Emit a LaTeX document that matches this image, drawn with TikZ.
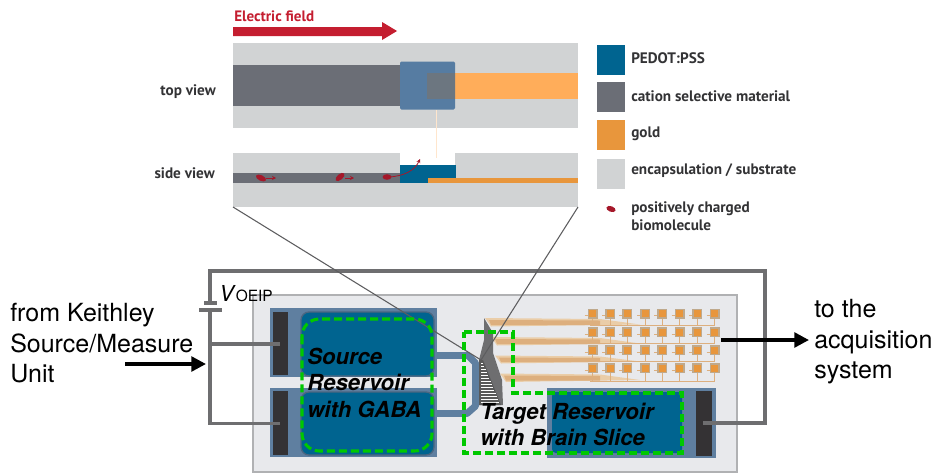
\documentclass[tikz,border=0pt]{standalone}
\usepackage{fontspec}
\setmainfont{TeX Gyre Heros}
\newfontfamily\legendfont{PT Sans}
\usetikzlibrary{arrows.meta}
\definecolor{encap}{HTML}{D1D3D4}
\definecolor{cation}{HTML}{6B6E76}
\definecolor{pedot}{HTML}{006490}
\definecolor{goldc}{HTML}{E8963C}
\definecolor{goldl}{HTML}{FFAD5A}
\definecolor{viewblue}{HTML}{567CA2}
\definecolor{overlap}{HTML}{6C7680}
\definecolor{redarrow}{HTML}{C41E30}
\definecolor{biomol}{HTML}{A5182A}
\definecolor{legtext}{HTML}{333335}
\definecolor{wire}{HTML}{6E6E70}
\definecolor{subst}{HTML}{E8E9EC}
\definecolor{substedge}{HTML}{B0B1B3}
\definecolor{frameblue}{HTML}{5F7FA0}
\definecolor{padblack}{HTML}{343234}
\definecolor{dashgreen}{HTML}{00C800}
\definecolor{tracel}{HTML}{EACDA8}
\definecolor{traced}{HTML}{DDAF7E}
\definecolor{padedge}{HTML}{BFA98C}
\tikzset{
  x=0.75pt,y=-0.75pt,
  legtxt/.style={anchor=base west,inner sep=0pt,text=legtext,font=\legendfont\bfseries\fontsize{11.4}{13}\selectfont},
  viewtxt/.style={anchor=base east,inner sep=0pt,text=legtext,font=\legendfont\bfseries\fontsize{11.4}{13}\selectfont},
  swatch/.style={inner sep=0pt,minimum width=21pt,minimum height=22.5pt,draw=none},
  mainlabel/.style={anchor=base west,inner sep=0pt,font=\fontsize{18.75}{22}\selectfont},
  reslabel/.style={anchor=base west,inner sep=0pt,font=\bfseries\itshape\fontsize{16.6}{20}\selectfont},
  wireline/.style={draw=wire,line width=2.4pt},
  zoomline/.style={draw=wire!85!black,line width=0.8pt},
  greendash/.style={draw=dashgreen,line width=2.3pt,dash pattern=on 6pt off 3pt},
  bigarrow/.style={draw=black,line width=2.6pt,-{Triangle[length=11pt,width=11pt]}},
  molecule/.style={fill=biomol,draw=none},
  molarrow/.style={draw=biomol,line width=0.6pt,-{Stealth[length=3pt,width=3pt]}},
}
\begin{document}
\begin{tikzpicture}
\useasboundingbox (0,0) rectangle (934,475);
% ---------- Electric field
\node[anchor=base west,inner sep=0pt,text=redarrow,font=\legendfont\bfseries\fontsize{11.3}{13}\selectfont] (efield) at (234,21) {Electric field};
\fill[redarrow] (233,27)--(382,27)--(382,22)--(397,31)--(382,40)--(382,36)--(233,36)--cycle;
% ---------- top view
\fill[encap] (233,43) rectangle (578,128);
\fill[cation] (233,65) rectangle (401,106);
\fill[goldl] (455,73) rectangle (578,98.5);
\fill[viewblue,rounded corners=1pt] (400,61.5) rectangle (455,109.5);
\fill[overlap] (427,73) rectangle (455,98.5);
\draw[color=goldl!30!white,line width=0.6pt] (436,110)--(436,158);
% ---------- side view
\fill[encap] (233,153) rectangle (400,207);
\fill[encap] (455,153) rectangle (578,207);
\fill[encap] (400,165) rectangle (455,207);
\fill[cation] (233,173) rectangle (400,183);
\fill[pedot] (399.5,165) rectangle (455.5,183);
\fill[goldc] (428,178) rectangle (578,183);
\fill[molecule,rotate around={-25:(261,178)}] (261,178) ellipse (5.5 and 2.8);
\fill[molecule,rotate around={40:(340,177)}] (340,177) ellipse (5.5 and 2.8);
\fill[molecule] (387,177) ellipse (4.5 and 2.8);
\draw[molarrow] (266,178)--(276,178);
\draw[molarrow] (345,178)--(354,178);
\draw[molarrow] (389,177) .. controls (405,176) and (415,170) .. (420,159);
\node[viewtxt] (topview) at (216,95) {top view};
\node[viewtxt] (sideview) at (215,178) {side view};
% ---------- legend
\node[swatch,fill=pedot,anchor=north west] (sw1) at (597,45) {};
\node[swatch,fill=cation,anchor=north west] (sw2) at (597,82) {};
\node[swatch,fill=goldc,anchor=north west] (sw3) at (597,119.5) {};
\node[swatch,fill=encap,anchor=north west] (sw4) at (597,159) {};
\fill[molecule,rotate around={-20:(611,209)}] (611,209) ellipse (4.8 and 2.8);
\node[legtxt] (l1) at (631,63) {PEDOT:PSS};
\node[legtxt] (l2) at (631,101) {cation selective material};
\node[legtxt] (l3) at (631,137) {gold};
\node[legtxt] (l4) at (631,174) {encapsulation / substrate};
\node[legtxt] (l5) at (631,212) {positively charged};
\node[legtxt] (l6) at (631,230) {biomolecule};
% ---------- device
\draw[fill=subst,draw=substedge,line width=1.5pt] (253,295) rectangle (737,472);
% reservoirs
\fill[frameblue] (270,308) rectangle (437,377);
\fill[frameblue] (270,388) rectangle (437,457);
\fill[frameblue] (547,388) rectangle (716,458);
\draw[draw=frameblue,line width=5.2pt,line join=round] (436,355.5)--(468,355.5)--(475.5,363)--(475.5,406)--(467,413.5)--(436,413.5);
\node[inner sep=0pt,minimum width=11.25pt,minimum height=47.25pt,fill=padblack,anchor=north west] (padA) at (273,312) {};
\node[inner sep=0pt,minimum width=11.25pt,minimum height=48pt,fill=padblack,anchor=north west] (padB) at (273,391) {};
\node[inner sep=0pt,minimum width=12pt,minimum height=48.75pt,fill=padblack,anchor=north west] (padC) at (696,391) {};
\fill[pedot,rounded corners=6pt,draw=frameblue!80!black,line width=1pt] (301,312) rectangle (434,376);
\fill[pedot,rounded corners=6pt,draw=frameblue!80!black,line width=1pt] (301,392) rectangle (434,455);
\fill[pedot,rounded corners=3pt] (552,392) rectangle (682,453);
% traces
\foreach \ya/\yb/\xl in {318/326.5/485,337/345.5/491,355.5/363.5/495,373.5/382/500}{
  \fill[tracel] (\xl,\ya)--(600,\ya+1)--(640,\yb-2)--(\xl+6,\yb)--cycle;
  \fill[traced] (\xl+4,\ya+2)--(600,\ya+2.5)--(600,\yb-1.5)--(\xl+6,\yb-1.5)--cycle;
}
\foreach \yy/\yl in {313.7/325,332.3/343.5,350.3/361.5,368.3/381}{
  \draw[color=traced,line width=0.6pt] (590,\yl)--(714.7,\yl);
  \foreach \xx in {592.7,610,627.3,645,662.3,679.7,697,714.7}{
    \draw[color=traced,line width=0.6pt] (\xx,\yy)--(\xx,\yl);
    \draw[color=traced,line width=0.6pt] (\xx-8,\yy+2)--(\xx,\yy+2);
    \fill[padedge] (\xx-5,\yy-5) rectangle (\xx+5,\yy+5);
    \fill[goldc] (\xx-3.5,\yy-3.5) rectangle (\xx+3.5,\yy+3.5);
  }
}
% fan
\fill[wire] (484,318)--(493,333)--(493,353)--(502,380)--(503,405)--(479,405)--(479,360)--(484,340)--cycle;
\fill[black!65] (479,360)--(483,360)--(501,405)--(479,405)--cycle;
\foreach \yy in {363,366,...,404}{
  \draw[color=white,line width=0.6pt] (481,\yy)--({481+(\yy-358)*0.42},\yy);
}
% wires
\coordinate (wTL) at (210,271);
\coordinate (wTR) at (765,271);
\coordinate (wBR) at (765,423);
\coordinate (batTop) at (210,303);
\coordinate (batBot) at (210,310);
\coordinate (wJ1) at (210,344);
\coordinate (wBL) at (210,423.5);
\coordinate (endA) at (280,344);
\coordinate (endB) at (280,423.5);
\coordinate (endC) at (703,423);
\draw[wireline] (batTop)--(wTL)--(wTR)--(wBR)--(endC);
\draw[wireline] (batBot)--(wBL)--(endB);
\draw[wireline] (wJ1)--(endA);
\draw[wireline] (204,303)--(217,303);
\draw[wireline] (199,310)--(222,310);
% zoom lines
\coordinate (zTip) at (481,360);
\coordinate (zL) at (233,207);
\coordinate (zR) at (578,207);
\draw[zoomline] (zL)--(zTip);
\draw[zoomline] (zR)--(zTip);
% green dashes
\draw[greendash,rounded corners=13pt] (302,319) rectangle (432,451);
\draw[greendash] (464,332)--(513,332)--(513,393)--(682,393)--(682,453)--(464,453)--cycle;
% labels
\node[mainlabel] (t1) at (10,321) {from Keithley};
\node[mainlabel] (t2) at (10,352) {Source/Measure};
\node[mainlabel] (t3) at (10,382) {Unit};
\node[mainlabel] (t4) at (814,317) {to the};
\node[mainlabel] (t5) at (814,348) {acquisition};
\node[mainlabel] (t6) at (814,378) {system};
\node[mainlabel] (volt) at (219,301) {\fontsize{16.5}{20}\selectfont\textit{V}\fontsize{11.6}{14}\selectfont OEIP};
\node[reslabel] (r1) at (307,364) {Source};
\node[reslabel] (r2) at (307,390) {Reservoir};
\node[reslabel] (r3) at (307,417) {with GABA};
\node[reslabel] (r4) at (480,419) {Target Reservoir};
\node[reslabel] (r5) at (480,445) {with Brain Slice};
% arrows
\coordinate (a1s) at (125,364);
\coordinate (a1e) at (206,364);
\coordinate (a2s) at (721,340);
\coordinate (a2e) at (809,340);
\draw[bigarrow] (a1s)--(a1e);
\draw[bigarrow] (a2s)--(a2e);
\end{tikzpicture}
\end{document}
